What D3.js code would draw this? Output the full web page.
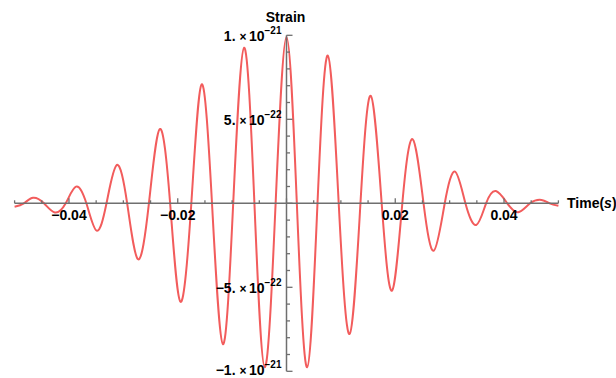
<!DOCTYPE html>
<html>
<head>
<meta charset="utf-8">
<script src="https://cdn.jsdelivr.net/npm/d3@7"></script>
<style>
    body { margin: 0; background: #fff; }
    #chart { width: 616px; height: 378px; }
    .lbl { font-family: "Liberation Sans", Arial, sans-serif; font-weight: bold; font-size: 14px; fill: #000; }
</style>
</head>
<body>
<div id="chart"></div>
<script>
// peaks and troughs (time in s, strain in units of 1e-21)
const extremaTime = [-0.0500, -0.0466, -0.0426, -0.0387, -0.0349, -0.0312, -0.0273, -0.0233, -0.0195, -0.0156, -0.0117, -0.0078, -0.0040, 0.0000,
    0.0038, 0.0076, 0.0116, 0.0155, 0.0194, 0.0232, 0.0271, 0.0310, 0.0349, 0.0385, 0.0426, 0.0469, 0.0500];
const extremaStrain = [-0.020, 0.033, -0.055, 0.099, -0.163, 0.228, -0.333, 0.442, -0.586, 0.708, -0.838, 0.926, -0.976, 0.990,
    -0.976, 0.879, -0.778, 0.640, -0.520, 0.381, -0.282, 0.188, -0.129, 0.073, -0.053, 0.020, -0.014];
// where the wave crosses the time axis
const crossTime = [-0.0483, -0.0446, -0.0406, -0.0368, -0.0331, -0.0293, -0.0253, -0.0214, -0.0175, -0.0137, -0.0098, -0.0059, -0.0020,
    0.0019, 0.0057, 0.0096, 0.0136, 0.0175, 0.0213, 0.0252, 0.0291, 0.0329, 0.0367, 0.0406, 0.0448, 0.0484];
const strainUnit = 1e-21;

const xMajorTicks = [-0.04, -0.02, 0.02, 0.04];
const xTickLabels = ["\u22120.04", "\u22120.02", "0.02", "0.04"];
const yMajorTicks = [1e-21, 5e-22, -5e-22, -1e-21];
const yTickMantissa = ["1.", "5.", "\u22125.", "\u22121."];
const yTickExponent = ["\u221221", "\u221222", "\u221222", "\u221221"];

const W = 616, H = 378;
const margin = { top: 35.3, right: 57.6, bottom: 6.7, left: 14.6 };
const axisColor = "#6f6f6f";
const lineColor = "#f25c5c";

const svg = d3.select("#chart").append("svg")
    .attr("width", W)
    .attr("height", H);

const x = d3.scaleLinear().domain([-0.05, 0.05]).range([margin.left, W - margin.right]);
const y = d3.scaleLinear().domain([-1e-21, 1e-21]).range([H - margin.bottom, margin.top]);

// build the point list: extrema + zero crossings, sorted by time
let pts = extremaTime.map((t, i) => ({ t: t, v: extremaStrain[i] * strainUnit }));
crossTime.forEach(t => pts.push({ t: t, v: 0 }));
pts.sort((a, b) => a.t - b.t);

// the wave (drawn first, axes sit in front like Mathematica)
const line = d3.line()
    .x(d => x(d.t))
    .y(d => y(d.v))
    .curve(d3.curveNatural);
svg.append("path")
    .datum(pts)
    .attr("d", line)
    .attr("fill", "none")
    .attr("stroke", lineColor)
    .attr("stroke-width", 2);

// X axis (ticks point up)
const xMinor = d3.range(-10, 11).map(i => i * 0.005);
const xAxis = svg.append("g").attr("transform", `translate(0, ${y(0)})`);
xAxis.append("line")
    .attr("x1", x(-0.05)).attr("x2", x(0.05))
    .attr("stroke", axisColor).attr("stroke-width", 1.5);
xAxis.selectAll(".xtick")
    .data(xMinor)
    .enter().append("line")
    .attr("x1", d => x(d)).attr("x2", d => x(d))
    .attr("y1", 0)
    .attr("y2", (d, i) => (i % 4 == 2) ? -5 : -3) // every 0.02 is a major tick
    .attr("stroke", axisColor).attr("stroke-width", 1.3);
xAxis.selectAll(".xlabel")
    .data(xMajorTicks)
    .enter().append("text")
    .attr("class", "lbl")
    .attr("x", d => x(d))
    .attr("y", 17)
    .attr("text-anchor", "middle")
    .text((d, i) => xTickLabels[i]);

// Y axis (ticks point right)
const yMinor = d3.range(-10, 11).map(i => i * 1e-22);
const yAxis = svg.append("g").attr("transform", `translate(${x(0)}, 0)`);
yAxis.append("line")
    .attr("y1", y(1e-21)).attr("y2", y(-1e-21))
    .attr("stroke", axisColor).attr("stroke-width", 1.5);
yAxis.selectAll(".ytick")
    .data(yMinor)
    .enter().append("line")
    .attr("y1", d => y(d)).attr("y2", d => y(d))
    .attr("x1", 0)
    .attr("x2", (d, i) => (i % 5 == 0) ? 6 : 3.5)
    .attr("stroke", axisColor).attr("stroke-width", 1.3);
const yLab = yAxis.selectAll(".ylabel")
    .data(yMajorTicks)
    .enter().append("text")
    .attr("class", "lbl")
    .attr("x", -5)
    .attr("y", (d, i) => y(d) + (i == 3 ? 3.5 : 5.5)) // bottom one nudged up to stay inside the frame
    .attr("text-anchor", "end");
yLab.append("tspan").text((d, i) => yTickMantissa[i] + " ");
yLab.append("tspan").style("font-size", "12px").text("\u00d7");
yLab.append("tspan").attr("dx", 2.5).text("10");
yLab.append("tspan").attr("dy", -6.5).style("font-size", "10px").text((d, i) => yTickExponent[i]);

// axis titles
svg.append("text")
    .attr("class", "lbl")
    .attr("x", x(0) - 1)
    .attr("y", 22)
    .attr("text-anchor", "middle")
    .text("Strain");
const tl = svg.append("text")
    .attr("class", "lbl")
    .attr("x", 567)
    .attr("y", y(0) + 5);
tl.append("tspan").text("Time(");
tl.append("tspan").style("font-style", "italic").text("s");
tl.append("tspan").text(")");
</script>
</body>
</html>
